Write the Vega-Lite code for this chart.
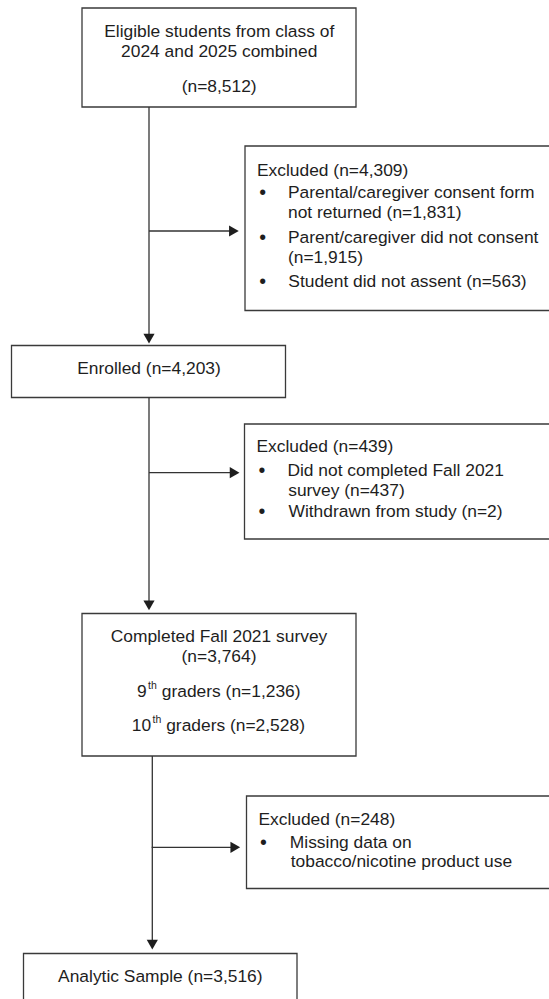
{
  "$schema": "https://vega.github.io/schema/vega-lite/v6.json",
  "width": 549,
  "height": 999,
  "padding": 0,
  "autosize": {"type": "none"},
  "background": "white",
  "config": {"view": {"stroke": null}},
  "datasets": {
    "boxes": [
      {"id": "eligible", "x": 82, "x2": 356, "y": 8, "y2": 107},
      {"id": "excl1", "x": 245, "x2": 570, "y": 146, "y2": 310.5},
      {"id": "enrolled", "x": 11.5, "x2": 285.5, "y": 345.5, "y2": 397.5},
      {"id": "excl2", "x": 244.5, "x2": 570, "y": 424, "y2": 539},
      {"id": "completed", "x": 82, "x2": 356, "y": 613.5, "y2": 756},
      {"id": "excl3", "x": 246.5, "x2": 570, "y": 796, "y2": 888.5},
      {"id": "analytic", "x": 23.5, "x2": 297, "y": 953.5, "y2": 1010}
    ],
    "lines": [
      {"x": 149, "y": 107, "x2": 149, "y2": 339},
      {"x": 149, "y": 231, "x2": 234, "y2": 231},
      {"x": 149, "y": 397.5, "x2": 149, "y2": 606},
      {"x": 149, "y": 472.7, "x2": 235, "y2": 472.7},
      {"x": 152.3, "y": 756, "x2": 152.3, "y2": 945},
      {"x": 151.7, "y": 847.3, "x2": 236, "y2": 847.3}
    ],
    "arrows": [
      {"x": 149, "y": 338.6, "shape": "triangle-down"},
      {"x": 233.9, "y": 231, "shape": "triangle-right"},
      {"x": 149, "y": 605.3, "shape": "triangle-down"},
      {"x": 234.6, "y": 472.7, "shape": "triangle-right"},
      {"x": 152.3, "y": 944.6, "shape": "triangle-down"},
      {"x": 235.3, "y": 847.3, "shape": "triangle-right"}
    ],
    "centered": [
      {"label": "Eligible students from class of", "x": 219.2, "y": 32.3},
      {"label": "2024 and 2025 combined", "x": 219.2, "y": 51.7},
      {"label": "(n=8,512)", "x": 219.2, "y": 86.7},
      {"label": "Enrolled (n=4,203)", "x": 149, "y": 369.3},
      {"label": "Completed Fall 2021 survey", "x": 219, "y": 637.3},
      {"label": "(n=3,764)", "x": 219, "y": 657.3},
      {"label": "Analytic Sample (n=3,516)", "x": 160.3, "y": 977.3}
    ],
    "bullets": [
      {"label": "•", "x": 262.7, "y": 192.7},
      {"label": "•", "x": 262.7, "y": 237.7},
      {"label": "•", "x": 262.7, "y": 282},
      {"label": "•", "x": 262, "y": 471},
      {"label": "•", "x": 262, "y": 512},
      {"label": "•", "x": 263.3, "y": 843.3}
    ],
    "lefttext": [
      {"label": "Excluded (n=4,309)", "x": 257, "y": 170.7},
      {"label": "Parental/caregiver consent form", "x": 288, "y": 192.7},
      {"label": "not returned (n=1,831)", "x": 288, "y": 213.3},
      {"label": "Parent/caregiver did not consent", "x": 288, "y": 237.7},
      {"label": "(n=1,915)", "x": 288, "y": 258.3},
      {"label": "Student did not assent (n=563)", "x": 288.3, "y": 281.5},
      {"label": "Excluded (n=439)", "x": 256.4, "y": 446.7},
      {"label": "Did not completed Fall 2021", "x": 287.4, "y": 470.5},
      {"label": "survey (n=437)", "x": 288.2, "y": 490.7},
      {"label": "Withdrawn from study (n=2)", "x": 288.5, "y": 511.7},
      {"label": "Excluded (n=248)", "x": 258.4, "y": 820},
      {"label": "Missing data on", "x": 289.8, "y": 842.7},
      {"label": "tobacco/nicotine product use", "x": 290.7, "y": 862.3},
      {"label": "9", "x": 137, "y": 691.7},
      {"label": "graders (n=1,236)", "x": 161.8, "y": 691.7},
      {"label": "10", "x": 131.8, "y": 725.7},
      {"label": "graders (n=2,528)", "x": 166.2, "y": 725.7}
    ],
    "sups": [
      {"label": "th", "x": 148.1, "y": 686.3},
      {"label": "th", "x": 152.5, "y": 720.3}
    ]
  },
  "encoding": {
    "x": {"field": "x", "type": "quantitative", "scale": {"domain": [0, 549], "nice": false, "zero": false}, "axis": null},
    "y": {"field": "y", "type": "quantitative", "scale": {"domain": [0, 999], "nice": false, "zero": false, "reverse": true}, "axis": null}
  },
  "layer": [
    {
      "data": {"name": "boxes"},
      "mark": {"type": "rect", "fill": "white", "stroke": "#3a3a3a", "strokeWidth": 1.3, "clip": true},
      "encoding": {
        "x2": {"field": "x2"},
        "y2": {"field": "y2"}
      }
    },
    {
      "data": {"name": "lines"},
      "mark": {"type": "rule", "stroke": "#333333", "strokeWidth": 1.3},
      "encoding": {
        "x2": {"field": "x2"},
        "y2": {"field": "y2"}
      }
    },
    {
      "data": {"name": "arrows"},
      "mark": {"type": "point", "filled": true, "color": "#1e1e1e", "size": 125, "opacity": 1},
      "encoding": {
        "shape": {"field": "shape", "type": "nominal", "scale": null}
      }
    },
    {
      "data": {"name": "centered"},
      "mark": {"type": "text", "align": "center", "baseline": "middle", "font": "Liberation Sans", "fontSize": 17.4, "color": "#1e1e1e"},
      "encoding": {"text": {"field": "label"}}
    },
    {
      "data": {"name": "bullets"},
      "mark": {"type": "text", "align": "center", "baseline": "middle", "font": "Liberation Sans", "fontSize": 19.5, "color": "#1e1e1e"},
      "encoding": {"text": {"field": "label"}}
    },
    {
      "data": {"name": "lefttext"},
      "mark": {"type": "text", "align": "left", "baseline": "middle", "font": "Liberation Sans", "fontSize": 17.4, "color": "#1e1e1e"},
      "encoding": {"text": {"field": "label"}}
    },
    {
      "data": {"name": "sups"},
      "mark": {"type": "text", "align": "left", "baseline": "middle", "font": "Liberation Sans", "fontSize": 10.5, "color": "#1e1e1e"},
      "encoding": {"text": {"field": "label"}}
    }
  ]
}
